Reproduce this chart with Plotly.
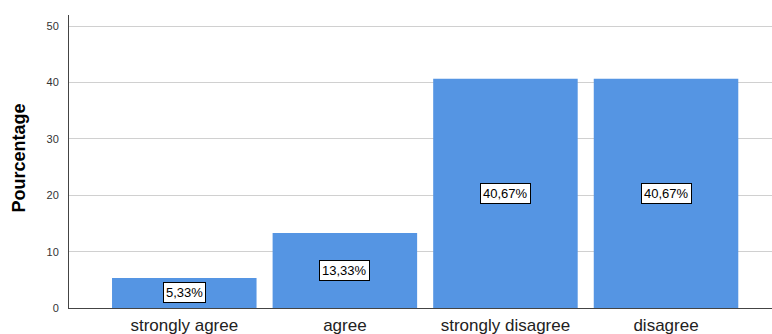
import plotly.graph_objects as go

categories = ["strongly agree", "agree", "strongly disagree", "disagree"]
values = [5.33, 13.33, 40.67, 40.67]
labels = ["5,33%", "13,33%", "40,67%", "40,67%"]
y_ticks = [0, 10, 20, 30, 40, 50]

fig = go.Figure()
fig.add_trace(go.Bar(
    x=list(range(len(categories))), y=values,
    width=0.9, marker=dict(color="#5595E3", line=dict(width=0)),
    hoverinfo="skip",
))

for i, (v, t) in enumerate(zip(values, labels)):
    fig.add_annotation(
        x=i, y=v / 2, text=t, showarrow=False,
        font=dict(family="Liberation Sans, Arial", size=13, color="#000"),
        bgcolor="white", bordercolor="#000", borderwidth=1, borderpad=2,
    )

fig.add_annotation(
    xref="paper", yref="paper", x=-0.0711, y=0.510,
    text="<b>Pourcentage</b>", textangle=-90, showarrow=False,
    font=dict(family="Liberation Sans, Arial", size=18, color="#000"),
    xanchor="center", yanchor="middle",
)

fig.update_layout(
    width=772, height=334,
    margin=dict(l=69, r=0, t=15, b=26, autoexpand=False),
    plot_bgcolor="white", paper_bgcolor="white",
    showlegend=False,
    font=dict(family="Liberation Sans, Arial", color="#222"),
    bargap=0.1,
)
fig.update_xaxes(
    tickmode="array", tickvals=list(range(len(categories))), ticktext=categories,
    range=[-0.718, 3.66], showgrid=False, zeroline=False, automargin=False,
    showline=True, linecolor="#444", linewidth=1,
    ticks="outside", ticklen=2, tickcolor="rgba(0,0,0,0)",
    tickfont=dict(size=17, color="#222"),
)
fig.update_yaxes(
    range=[0, 52], tickmode="array", tickvals=y_ticks, automargin=False,
    showgrid=True, gridcolor="#D0D0D0", gridwidth=1, zeroline=False,
    showline=True, linecolor="#444", linewidth=1,
    ticks="outside", ticklen=7, tickcolor="rgba(0,0,0,0)",
    tickfont=dict(size=11, color="#333"),
)

fig.write_html("out.html")
